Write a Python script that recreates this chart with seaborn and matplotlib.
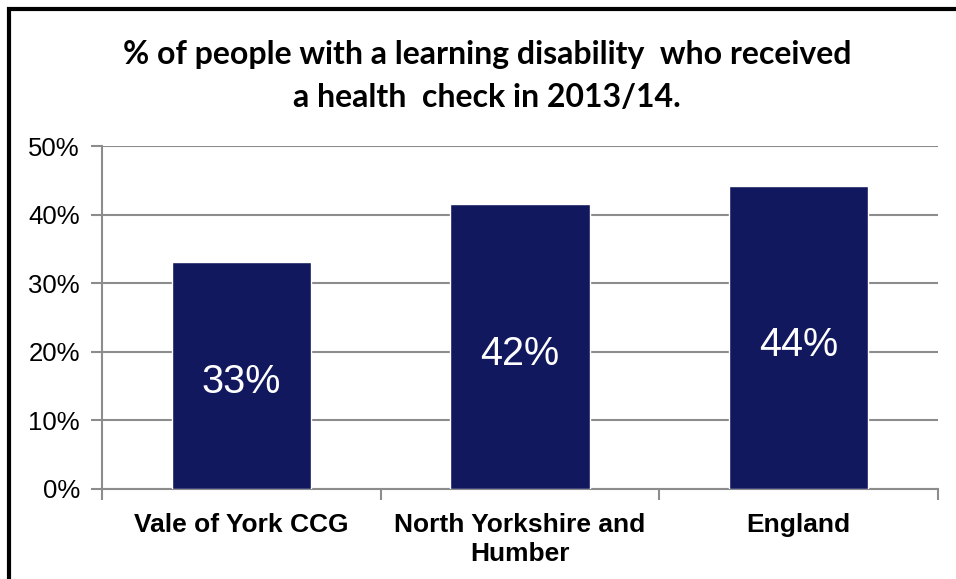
import matplotlib
matplotlib.use("Agg")
import matplotlib.pyplot as plt
import matplotlib.patches as mpatches
import seaborn as sns

categories = ["Vale of York CCG", "North Yorkshire and\nHumber", "England"]
values = [33.1, 41.5, 44.1]
bar_labels = ["33%", "42%", "44%"]
yticks = [0, 10, 20, 30, 40, 50]
ytick_labels = ["0%", "10%", "20%", "30%", "40%", "50%"]
title = "% of people with a learning disability  who received\na health  check in 2013/14."

sns.set_style("white")
plt.rcParams["font.family"] = ["Liberation Sans", "DejaVu Sans"]
plt.rcParams["text.color"] = "black"
plt.rcParams["xtick.color"] = "black"
plt.rcParams["ytick.color"] = "black"

fig = plt.figure(figsize=(9.56, 5.79), dpi=100)
ax = fig.add_axes([102 / 956, 90 / 579, 836 / 956, 343 / 579])

navy = "#12185e"
grid = "#8c8c8c"
sns.barplot(x=categories, y=values, color=navy, saturation=1, width=0.5, ax=ax, zorder=3)

ax.set_ylim(0, 50)
ax.set_xlim(-0.5, 2.5)
ax.set_yticks(yticks)
ax.set_yticklabels(ytick_labels, fontsize=18.5)
ax.yaxis.grid(True, color=grid, linewidth=1.5, zorder=0)
ax.set_axisbelow(True)

# ticks at category boundaries
ax.set_xticks([-0.5, 0.5, 1.5, 2.5], minor=True)
ax.tick_params(axis="x", which="minor", length=8, width=1.5, color=grid, bottom=True)
ax.tick_params(axis="x", which="major", length=0, pad=17, labelcolor="black")
ax.tick_params(axis="y", length=8, width=1.5, color=grid, left=True, pad=8,
               labelcolor="black")
for lbl in ax.get_xticklabels():
    lbl.set_fontweight("bold")
    lbl.set_fontsize(19)
    lbl.set_linespacing(1.3)

for side in ["top", "right"]:
    ax.spines[side].set_visible(False)
for side in ["left", "bottom"]:
    ax.spines[side].set_color(grid)
    ax.spines[side].set_linewidth(1.5)

ax.bar_label(ax.containers[0], labels=bar_labels, label_type="center",
             color="white", fontsize=28.5, padding=-5)

ax.set_xlabel("")
ax.set_ylabel("")

fig.text(487 / 956, 1 - 76 / 579, title, ha="center", va="center",
         fontsize=23, fontweight="bold", family=["Lato", "DejaVu Sans"],
         color="black", linespacing=1.62)

# outer frame (only top and left edges visible, as in the original)
frame = mpatches.Rectangle((9 / 956, -0.2), 1.2, 1.2 - 9 / 579,
                           transform=fig.transFigure, fill=False,
                           edgecolor="black", linewidth=3, clip_on=False)
fig.patches.append(frame)

fig.savefig("out.png", dpi=100)
